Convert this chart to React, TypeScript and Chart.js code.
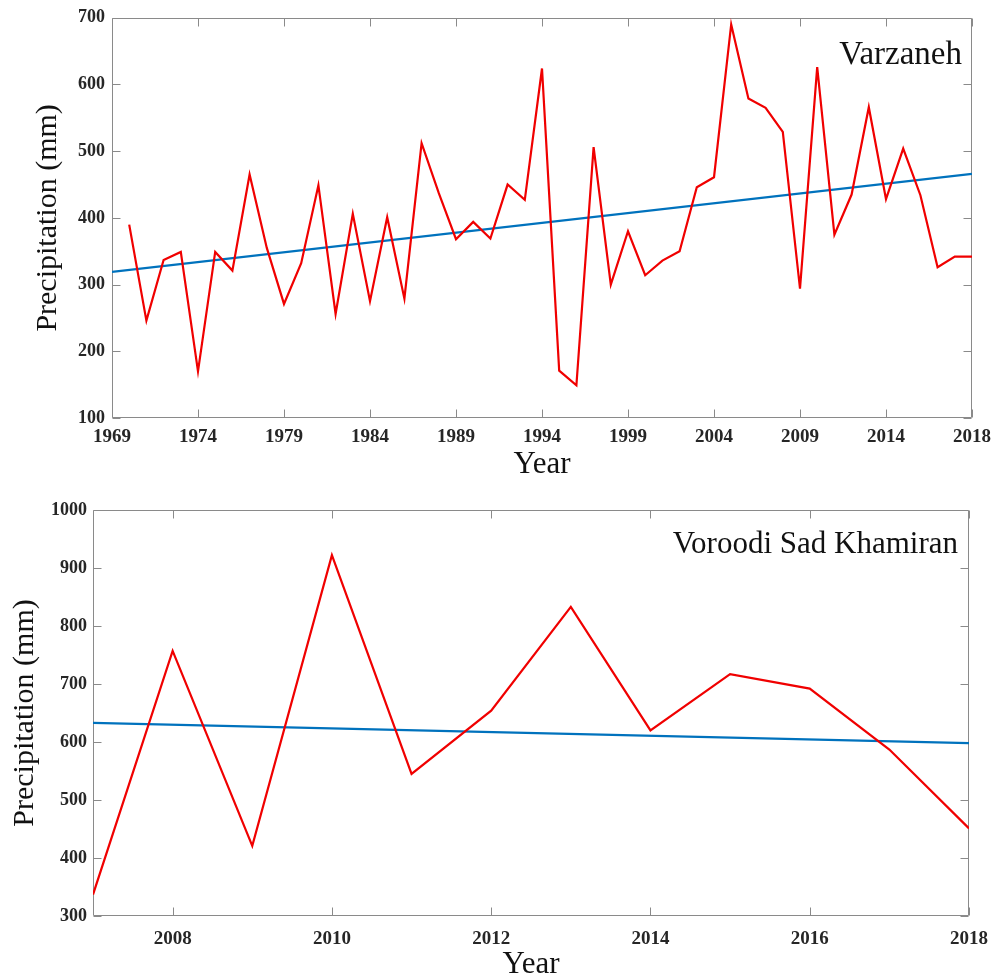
import React, { useEffect, useRef } from 'react';
import { Chart, registerables } from 'chart.js';

Chart.register(...registerables);

// ---------- Varzaneh (top panel) ----------
const varzanehYears = [
  1970, 1971, 1972, 1973, 1974, 1975, 1976, 1977, 1978, 1979,
  1980, 1981, 1982, 1983, 1984, 1985, 1986, 1987, 1988, 1989,
  1990, 1991, 1992, 1993, 1994, 1995, 1996, 1997, 1998, 1999,
  2000, 2001, 2002, 2003, 2004, 2005, 2006, 2007, 2008, 2009,
  2010, 2011, 2012, 2013, 2014, 2015, 2016, 2017, 2018, 2019,
];
const varzanehPrecip = [
  390, 246, 337, 349, 170, 349, 321, 465, 355, 271,
  332, 449, 256, 406, 275, 401, 279, 512, 437, 368,
  394, 369, 450, 427, 624, 171, 149, 506, 300, 380,
  314, 336, 350, 446, 461, 690, 579, 565, 529, 294,
  626, 375, 435, 566, 428, 504, 434, 326, 342, 342,
];
const varzanehTrendYears = [1969, 2019];
const varzanehTrend = [319, 466];
const varzanehXTicks = [1969, 1974, 1979, 1984, 1989, 1994, 1999, 2004, 2009, 2014, 2019];
const varzanehXTickLabels = ['1969', '1974', '1979', '1984', '1989', '1994', '1999', '2004', '2009', '2014', '2018'];
const varzanehYTicks = [100, 200, 300, 400, 500, 600, 700];

// ---------- Voroodi Sad Khamiran (bottom panel) ----------
const khamiranYears = [2007, 2008, 2009, 2010, 2011, 2012, 2013, 2014, 2015, 2016, 2017, 2018];
const khamiranPrecip = [337, 757, 421, 922, 545, 654, 833, 620, 717, 692, 587, 451];
const khamiranTrendYears = [2007, 2018];
const khamiranTrend = [633, 598];
const khamiranXTicks = [2008, 2010, 2012, 2014, 2016, 2018];
const khamiranXTickLabels = ['2008', '2010', '2012', '2014', '2016', '2018'];
const khamiranYTicks = [300, 400, 500, 600, 700, 800, 900, 1000];

const SERIF = '"Liberation Serif", "Times New Roman", serif';
const RED = '#f00000';
const BLUE = '#0072bd';
const AXIS = '#8a8a8a';
const TEXT = '#262626';

const boxPlugin = {
  id: 'matlabBox',
  beforeDatasetsDraw(chart: any) {
    const { ctx, chartArea: a, scales } = chart;
    const xs = scales.x;
    const ys = scales.y;
    const L = Math.round(a.left) + 0.5;
    const R = Math.round(a.right) - 0.5;
    const T = Math.round(a.top) + 0.5;
    const B = Math.round(a.bottom) - 0.5;
    const tl = 8;
    ctx.save();
    ctx.strokeStyle = AXIS;
    ctx.lineWidth = 1;
    ctx.beginPath();
    ctx.rect(L, T, R - L, B - T);
    ctx.stroke();
    ctx.beginPath();
    xs.ticks.forEach((t: any) => {
      const px = Math.round(xs.getPixelForValue(t.value)) + 0.5;
      ctx.moveTo(px, B);
      ctx.lineTo(px, B - tl);
      ctx.moveTo(px, T);
      ctx.lineTo(px, T + tl);
    });
    ys.ticks.forEach((t: any) => {
      const py = Math.round(ys.getPixelForValue(t.value)) + 0.5;
      ctx.moveTo(L, py);
      ctx.lineTo(L + tl, py);
      ctx.moveTo(R, py);
      ctx.lineTo(R - tl, py);
    });
    ctx.stroke();
    ctx.restore();
  },
  afterDatasetsDraw(chart: any, _args: any, opts: any) {
    if (!opts || !opts.text) return;
    const { ctx, chartArea: a } = chart;
    ctx.save();
    ctx.font = `${opts.size}px ${SERIF}`;
    ctx.fillStyle = '#111';
    ctx.textAlign = 'right';
    ctx.textBaseline = 'alphabetic';
    ctx.fillText(opts.text, a.right - opts.dx, a.top + opts.dy);
    ctx.restore();
  },
};

type PanelProps = {
  width: number;
  height: number;
  years: number[];
  values: number[];
  trendYears: number[];
  trend: number[];
  xMin: number;
  xMax: number;
  xTicks: number[];
  xTickLabels: string[];
  yMin: number;
  yMax: number;
  yTicks: number[];
  padRight: number;
  padTop: number;
  yAxisWidth: number;
  xAxisHeight: number;
  yTitlePad: number;
  xTickGap: number;
  yTickPad: number;
  label: string;
  labelSize: number;
  labelDx: number;
  labelDy: number;
};

function Panel(p: PanelProps) {
  const ref = useRef<HTMLCanvasElement | null>(null);
  useEffect(() => {
    if (!ref.current) return;
    const chart = new Chart(ref.current, {
      type: 'line',
      data: {
        datasets: [
          {
            data: p.years.map((x, i) => ({ x, y: p.values[i] })),
            borderColor: RED,
            borderWidth: 2.2,
            pointRadius: 0,
            tension: 0,
            fill: false,
          },
          {
            data: p.trendYears.map((x, i) => ({ x, y: p.trend[i] })),
            borderColor: BLUE,
            borderWidth: 2.2,
            pointRadius: 0,
            tension: 0,
            fill: false,
          },
        ],
      },
      options: {
        responsive: false,
        animation: false,
        devicePixelRatio: 1,
        layout: { padding: { left: 0, right: p.padRight, top: p.padTop, bottom: 0 } },
        plugins: {
          legend: { display: false },
          tooltip: { enabled: false },
          matlabBox: { text: p.label, size: p.labelSize, dx: p.labelDx, dy: p.labelDy },
        } as any,
        scales: {
          x: {
            type: 'linear',
            min: p.xMin,
            max: p.xMax,
            afterBuildTicks: (s: any) => {
              s.ticks = p.xTicks.map((v) => ({ value: v }));
            },
            afterFit: (s: any) => {
              s.height = p.xAxisHeight;
            },
            ticks: {
              autoSkip: false,
              maxRotation: 0,
              padding: 0,
              color: TEXT,
              font: { family: SERIF, size: 19, weight: 'bold' },
              callback: (_v: any, i: number) => p.xTickLabels[i],
            },
            grid: {
              display: true,
              drawOnChartArea: false,
              drawTicks: true,
              tickLength: p.xTickGap,
              color: 'rgba(0,0,0,0)',
            },
            border: { display: false },
            title: {
              display: true,
              text: 'Year',
              color: '#111',
              font: { family: SERIF, size: 31 },
              padding: { top: 0, bottom: 2 },
            },
          },
          y: {
            type: 'linear',
            min: p.yMin,
            max: p.yMax,
            afterBuildTicks: (s: any) => {
              s.ticks = p.yTicks.map((v) => ({ value: v }));
            },
            afterFit: (s: any) => {
              s.width = p.yAxisWidth;
            },
            ticks: {
              padding: p.yTickPad,
              color: TEXT,
              font: { family: SERIF, size: 18, weight: 'bold' },
              callback: (v: any) => String(v),
            },
            grid: { display: false, drawTicks: false, tickLength: 0 },
            border: { display: false },
            title: {
              display: true,
              text: 'Precipitation (mm)',
              color: '#111',
              font: { family: SERIF, size: 30 },
              padding: { top: p.yTitlePad, bottom: 0 },
            },
          },
        },
      },
      plugins: [boxPlugin],
    } as any);
    return () => chart.destroy();
  }, []);
  return (
    <canvas
      ref={ref}
      width={p.width}
      height={p.height}
      style={{ display: 'block', width: p.width, height: p.height }}
    />
  );
}

export default function App() {
  return (
    <div
      style={{
        position: 'absolute',
        left: 0,
        top: 0,
        width: 994,
        height: 975,
        overflow: 'hidden',
        background: '#fff',
      }}
    >
      <Panel
        width={994}
        height={485}
        years={varzanehYears}
        values={varzanehPrecip}
        trendYears={varzanehTrendYears}
        trend={varzanehTrend}
        xMin={1969}
        xMax={2019}
        xTicks={varzanehXTicks}
        xTickLabels={varzanehXTickLabels}
        yMin={100}
        yMax={700}
        yTicks={varzanehYTicks}
        padRight={22}
        padTop={17}
        yAxisWidth={112}
        xAxisHeight={67}
        yTitlePad={30}
        xTickGap={8}
        yTickPad={7}
        label="Varzaneh"
        labelSize={33}
        labelDx={10}
        labelDy={46}
      />
      <Panel
        width={994}
        height={500}
        years={khamiranYears}
        values={khamiranPrecip}
        trendYears={khamiranTrendYears}
        trend={khamiranTrend}
        xMin={2007}
        xMax={2018}
        xTicks={khamiranXTicks}
        xTickLabels={khamiranXTickLabels}
        yMin={300}
        yMax={1000}
        yTicks={khamiranYTicks}
        padRight={25}
        padTop={25}
        yAxisWidth={93}
        xAxisHeight={69}
        yTitlePad={7}
        xTickGap={12}
        yTickPad={6}
        label="Voroodi Sad Khamiran"
        labelSize={31}
        labelDx={11}
        labelDy={43}
      />
    </div>
  );
}
